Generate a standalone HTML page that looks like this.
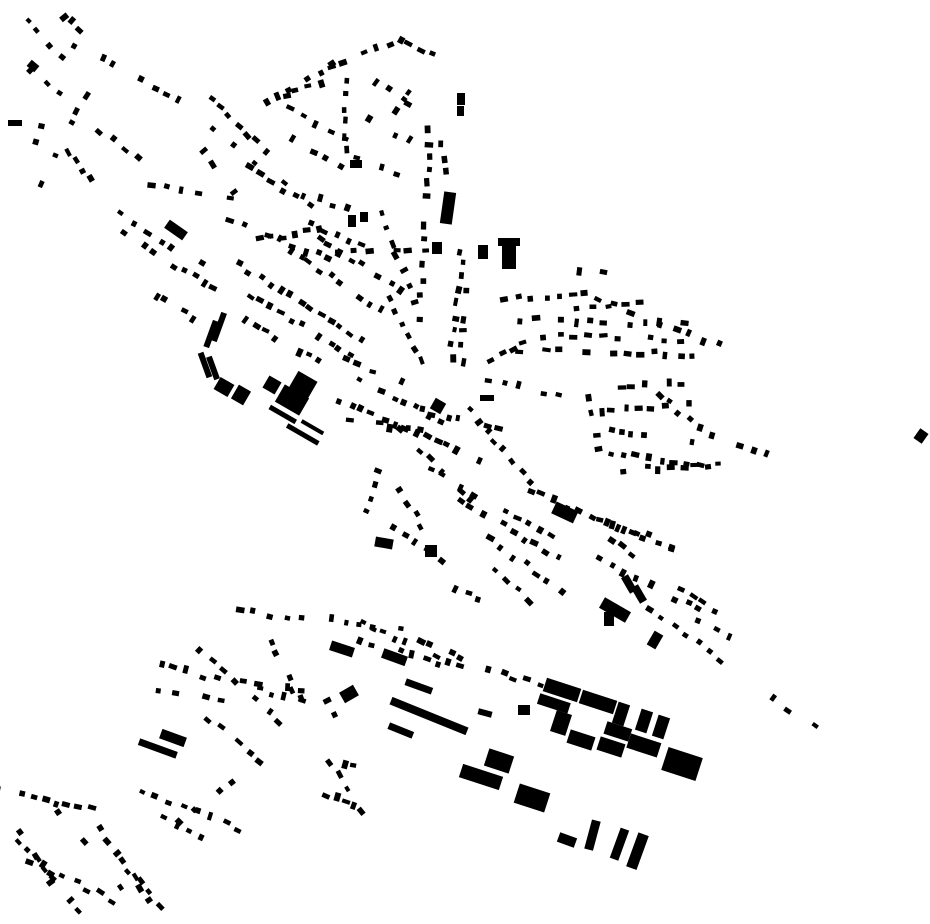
<!DOCTYPE html>
<html><head><meta charset="utf-8"><style>
html,body{margin:0;padding:0;background:#fff;width:930px;height:924px;overflow:hidden}
svg{display:block}
</style></head><body>
<svg id="m" width="930" height="924" viewBox="0 0 930 924" xmlns="http://www.w3.org/2000/svg">
<g fill="#000" id="big">
<rect x="442" y="192" width="12" height="32" transform="rotate(8 448 208)"/>
<rect x="498" y="238" width="22" height="8"/><rect x="502" y="244" width="14" height="25"/>
<rect x="478" y="245" width="10" height="14"/>
<rect x="292" y="375" width="22" height="20" transform="rotate(30 303 385)"/>
<rect x="278" y="390" width="28" height="20" transform="rotate(30 292 400)"/>
<rect x="265" y="378" width="14" height="14" transform="rotate(30 272 385)"/>
<rect x="216" y="380" width="16" height="14" transform="rotate(30 224 387)"/>
<rect x="234" y="387" width="14" height="16" transform="rotate(30 241 395)"/>
<rect x="208" y="320" width="6" height="28" transform="rotate(20 211 334)"/>
<rect x="216" y="312" width="6" height="30" transform="rotate(20 219 327)"/>
<rect x="202" y="352" width="6" height="26" transform="rotate(-20 205 365)"/>
<rect x="210" y="356" width="6" height="24" transform="rotate(-20 213 368)"/>
<rect x="268" y="412" width="30" height="5" transform="rotate(30 283 414)"/>
<rect x="285" y="432" width="36" height="5" transform="rotate(30 303 434)"/>
<rect x="300" y="425" width="25" height="4" transform="rotate(30 312 427)"/>
<rect x="165" y="225" width="22" height="10" transform="rotate(35 176 230)"/>
<rect x="350" y="160" width="12" height="8"/><rect x="348" y="215" width="8" height="12"/>
<rect x="457" y="93" width="8" height="12"/><rect x="457" y="106" width="7" height="10"/>
<rect x="432" y="242" width="10" height="12"/>
<rect x="480" y="395" width="14" height="6"/>
<rect x="432" y="400" width="12" height="12" transform="rotate(30 438 406)"/>
<rect x="916" y="430" width="10" height="12" transform="rotate(35 921 436)"/>
<rect x="553" y="506" width="24" height="13" transform="rotate(25 565 512)"/>
<rect x="375" y="538" width="18" height="10" transform="rotate(10 384 543)"/>
<rect x="425" y="545" width="12" height="12"/>
<rect x="544" y="683" width="36" height="14" transform="rotate(18 562 690)"/>
<rect x="580" y="695" width="36" height="14" transform="rotate(18 598 702)"/>
<rect x="538" y="698" width="32" height="11" transform="rotate(18 554 703)"/>
<rect x="553" y="712" width="16" height="22" transform="rotate(18 561 723)"/>
<rect x="568" y="733" width="26" height="14" transform="rotate(18 581 740)"/>
<rect x="598" y="740" width="26" height="14" transform="rotate(18 611 747)"/>
<rect x="605" y="725" width="26" height="13" transform="rotate(18 618 731)"/>
<rect x="615" y="703" width="12" height="22" transform="rotate(18 621 714)"/>
<rect x="638" y="710" width="12" height="22" transform="rotate(18 644 721)"/>
<rect x="655" y="716" width="12" height="22" transform="rotate(18 661 727)"/>
<rect x="628" y="738" width="32" height="15" transform="rotate(18 644 745)"/>
<rect x="664" y="752" width="36" height="24" transform="rotate(18 682 764)"/>
<rect x="486" y="752" width="26" height="18" transform="rotate(18 499 761)"/>
<rect x="460" y="770" width="42" height="14" transform="rotate(18 481 777)"/>
<rect x="516" y="788" width="32" height="20" transform="rotate(18 532 798)"/>
<rect x="388" y="712" width="82" height="8" transform="rotate(22 429 716)"/>
<rect x="388" y="727" width="26" height="7" transform="rotate(22 401 730)"/>
<rect x="330" y="644" width="24" height="10" transform="rotate(18 342 649)"/>
<rect x="341" y="688" width="16" height="12" transform="rotate(-30 349 694)"/>
<rect x="138" y="745" width="40" height="7" transform="rotate(20 158 748)"/>
<rect x="160" y="733" width="26" height="10" transform="rotate(20 173 738)"/>
<rect x="558" y="835" width="18" height="10" transform="rotate(20 567 840)"/>
<rect x="588" y="820" width="9" height="30" transform="rotate(15 592 835)"/>
<rect x="615" y="828" width="9" height="32" transform="rotate(20 619 844)"/>
<rect x="632" y="833" width="11" height="36" transform="rotate(20 637 851)"/>
<rect x="600" y="604" width="30" height="12" transform="rotate(30 615 610)"/>
<rect x="604" y="612" width="10" height="14"/>
<rect x="625" y="575" width="8" height="18" transform="rotate(-30 629 584)"/>
<rect x="635" y="585" width="8" height="18" transform="rotate(-30 639 594)"/>
<rect x="650" y="632" width="10" height="16" transform="rotate(30 655 640)"/>
<rect x="382" y="652" width="25" height="10" transform="rotate(20 394 657)"/>
<rect x="405" y="683" width="28" height="7" transform="rotate(20 419 686)"/>
<rect x="478" y="710" width="14" height="6" transform="rotate(15 485 713)"/>
<rect x="518" y="705" width="12" height="10"/>
<rect x="8" y="120" width="14" height="6"/>
<rect x="28" y="62" width="10" height="8" transform="rotate(40 33 66)"/>
<rect x="360" y="212" width="8" height="10"/>
</g>
<g fill="#000" id="small"></g>
</svg>
<script>
var rows=[
[18,15,60,55,9],[65,15,80,30,9],[75,45,180,100,11],[30,70,60,95,12],[40,125,35,140,12],
[85,95,40,185,13],[70,150,90,180,10],[100,130,140,160,12],
[125,235,215,290,9],[120,215,200,265,11],[150,185,230,200,12],[155,295,195,318,9],
[210,100,265,150,9],[215,130,285,185,10],[235,160,310,205,10],[205,150,235,190,11],
[265,100,330,65,9],[330,65,400,38,9],[400,38,432,55,8],
[290,110,345,140,11],[290,140,340,165,11],[305,195,360,215,10],[285,95,320,85,10],
[345,80,345,150,11],[375,80,410,105,11],[355,160,395,172,10],[370,120,410,140,11],[395,110,410,90,10],
[430,130,420,320,10],[440,130,445,185,11],[462,250,450,370,10],[468,290,462,360,10],
[240,265,360,340,9],[250,295,350,355,9],[245,320,340,375,9],[290,250,380,310,9],[320,240,400,290,9],
[230,220,330,260,10],[340,250,410,250,10],[260,240,320,230,10],[300,220,360,245,10],[380,215,415,300,11],
[390,300,420,360,11],[345,360,400,380,10],
[340,400,480,460,9],[360,380,440,420,9],[350,420,420,430,10],[400,430,470,500,10],[420,410,500,430,10],
[380,470,360,525,10],[380,520,440,560,10],[400,490,430,540,11],
[430,470,560,540,9],[460,500,580,570,9],[490,540,560,590,10],[495,570,530,600,10],[455,590,480,600,10],
[530,490,670,550,10],[600,520,670,545,10],[600,560,700,610,11],[640,600,720,660,11],[610,540,640,560,10],
[470,410,530,480,10],[490,360,525,345,10],
[505,300,600,290,10],[520,320,700,325,10],[520,350,720,355,10],[490,380,560,395,10],[530,335,680,340,11],
[580,270,615,275,9],[600,300,720,345,12],[560,310,640,300,11],
[600,410,690,405,9],[610,430,690,440,9],[600,450,700,465,9],[610,470,720,465,9],[700,430,765,455,10],
[620,385,680,385,9],[590,400,600,450,10],[660,395,690,420,10],
[160,665,300,700,11],[200,650,280,720,11],[240,610,300,620,11],[210,720,260,760,10],[230,680,300,690,11],
[270,640,300,700,11],[160,690,220,700,12],
[320,690,350,740,10],[330,765,360,810,9],[325,795,355,805,9],[345,765,365,770,8],
[350,620,460,665,9],[330,620,400,630,10],[420,640,460,660,9],[360,640,440,665,10],
[0,790,90,810,9],[10,820,50,880,10],[20,840,80,910,10],[60,810,130,900,10],[100,830,150,900,10],
[140,790,240,830,11],[30,860,110,900,10],[150,810,200,840,10],[120,860,160,905,10],[180,820,230,780,12],
[490,670,540,685,11],[775,700,815,725,12],[680,590,715,610,10],[700,620,745,645,12]
];
var s=12345;function r(){s=(s*16807)%2147483647;return s/2147483647;}
var g=document.getElementById('small'),ns='http://www.w3.org/2000/svg';
rows.forEach(function(q){
var dx=q[2]-q[0],dy=q[3]-q[1],L=Math.sqrt(dx*dx+dy*dy),sp=q[4]*1.35;
var n=Math.max(1,Math.round(L/sp)),a=Math.atan2(dy,dx)*180/Math.PI;
for(var i=0;i<=n;i++){
if(r()<0.18)continue;
var t=i/n,x=q[0]+dx*t+(r()-.5)*5,y=q[1]+dy*t+(r()-.5)*5;
var w=5+r()*3.5,h=4+r()*2;
var rot=a+(r()<0.3?90:0)+(r()-.5)*14;
var e=document.createElementNS(ns,'rect');
e.setAttribute('x',(x-w/2).toFixed(1));e.setAttribute('y',(y-h/2).toFixed(1));
e.setAttribute('width',w.toFixed(1));e.setAttribute('height',h.toFixed(1));
e.setAttribute('transform','rotate('+rot.toFixed(0)+' '+x.toFixed(1)+' '+y.toFixed(1)+')');
g.appendChild(e);}
});
</script>
</body></html>
